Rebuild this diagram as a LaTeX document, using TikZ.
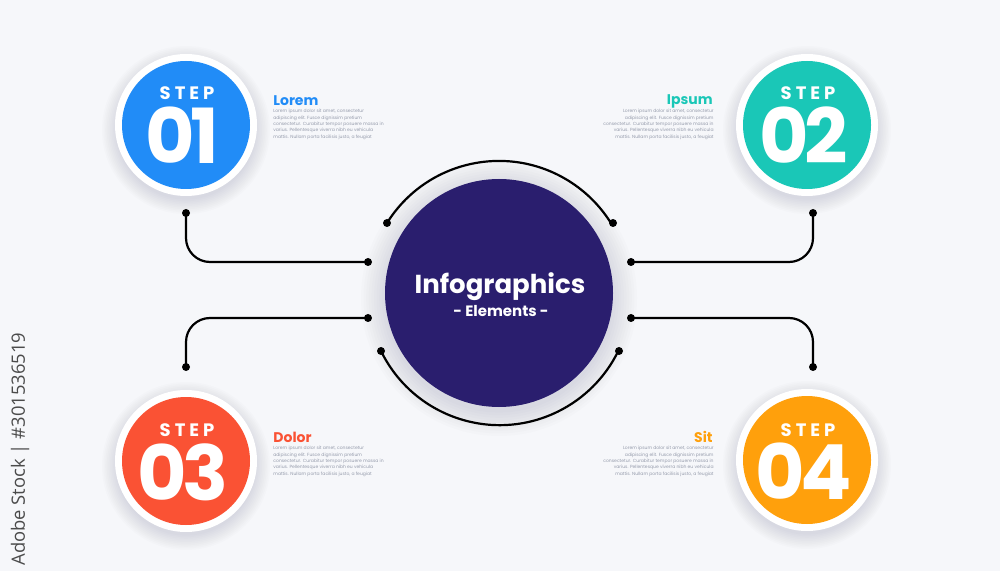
\documentclass[tikz,border=0pt]{standalone}
\usepackage{fontspec}
\setmainfont{Poppins}
\newfontfamily\wmfont{Open Sans}
\definecolor{bg}{RGB}{246,247,250}
\definecolor{cblue}{RGB}{33,140,247}
\definecolor{cteal}{RGB}{26,199,183}
\definecolor{cred}{RGB}{250,82,52}
\definecolor{corange}{RGB}{255,160,12}
\definecolor{cnavy}{RGB}{42,30,110}
\definecolor{bodygray}{RGB}{150,156,172}
\definecolor{wmgray}{RGB}{75,75,75}
\definecolor{shadowc}{RGB}{120,130,155}
\newcommand\mybody{Lorem ipsum dolor sit amet, consectetur\\adipiscing elit. Fusce dignissim pretium\\consectetur. Curabitur tempor posuere massa in\\varius. Pellentesque viverra nibh eu vehicula\\mattis. Nullam porta facilisis justo, a feugiat}
\newcommand\softshadow[3]{% center, radius, spread
  \foreach \k in {1,...,10}{
    \fill[shadowc, opacity=0.022] ($(#1)+(0,5)$) circle[radius={#2+#3*\k/10}];
  }}
\usetikzlibrary{calc}
\tikzset{
  ring/.style={circle, fill=white, minimum size=71pt, inner sep=0pt},
  disc/.style={circle, fill=#1, minimum size=64pt, inner sep=0pt},
  steplbl/.style={text=white, font=\bfseries\fontsize{9}{10}\selectfont\addfontfeature{LetterSpace=22}, inner sep=0pt},
  numlbl/.style={text=white, font=\bfseries\fontsize{38}{40}\selectfont\addfontfeature{LetterSpace=-6}, inner sep=0pt},
  title/.style={text=#1, font=\bfseries\fontsize{7}{8}\selectfont, inner sep=0pt},
  bodytxt/.style={text=bodygray, font=\fontsize{2.25}{3.15}\selectfont, inner sep=0pt},
  conn/.style={draw=black, line width=1.1pt, rounded corners=12pt},
  dot/.style={fill=black}
}
\begin{document}
\begin{tikzpicture}[x=0.5pt,y=-0.5pt]
\fill[bg] (0,0) rectangle (1000,571);
\useasboundingbox (0,0) rectangle (1000,571);

% watermark
\node[rotate=90, anchor=west, inner sep=0pt, text=wmgray, font=\wmfont\fontsize{9.2}{11}\selectfont] (wm) at (20,566) {Adobe Stock | \#301536519};

% shadows
\softshadow{499,293}{112}{26}
\softshadow{186,125}{68}{16}
\softshadow{807,125}{68}{16}
\softshadow{186,461}{68}{16}
\softshadow{807,460}{68}{16}

% central circle
\node[circle, fill=cnavy, minimum size=114pt, inner sep=0pt] (c) at (499,293) {};
\node[text=white, font=\bfseries\fontsize{13}{14}\selectfont, inner sep=0pt] (ct) at (500,287) {Infographics};
\node[text=white, font=\bfseries\fontsize{7.5}{9}\selectfont, inner sep=0pt] (ce) at (501,311) {- Elements -};

% step circles
\node[ring] (r1) at (186,125) {};
\node[disc=cblue] (s1) at (186,125) {};
\node[steplbl] (st1) at (187,93) {STEP};
\node[numlbl] (n1) at (182,135) {01};

\node[ring] (r2) at (807,125) {};
\node[disc=cteal] (s2) at (807,125) {};
\node[steplbl] (st2) at (808,93) {STEP};
\node[numlbl] (n2) at (804,135) {02};

\node[ring] (r3) at (186,461) {};
\node[disc=cred] (s3) at (186,461) {};
\node[steplbl] (st3) at (187,430) {STEP};
\node[numlbl] (n3) at (183,472) {03};

\node[ring] (r4) at (807,460) {};
\node[disc=corange] (s4) at (807,460) {};
\node[steplbl] (st4) at (808,430) {STEP};
\node[numlbl] (n4) at (804,471) {04};

% text blocks
\node[title=cblue, anchor=west] (t1) at (273,101) {Lorem};
\node[bodytxt, anchor=north west, align=left] (b1) at (273,109) {\mybody};
\node[title=cteal, anchor=east] (t2) at (713,101) {Ipsum};
\node[bodytxt, anchor=north east, align=right] (b2) at (714,109) {\mybody};
\node[title=cred, anchor=west] (t3) at (273,437) {Dolor};
\node[bodytxt, anchor=north west, align=left] (b3) at (273,446) {\mybody};
\node[title=corange, anchor=east] (t4) at (713,437) {Sit};
\node[bodytxt, anchor=north east, align=right] (b4) at (714,446) {\mybody};

% connector end points
\coordinate (p1a) at (186,213);
\coordinate (p1b) at (368,262);
\coordinate (p3a) at (186,367);
\coordinate (p3b) at (368,318);
\coordinate (p2a) at (813,213);
\coordinate (p2b) at (631,262);
\coordinate (p4a) at (813,367);
\coordinate (p4b) at (631,318);
\coordinate (aTL) at (387,223);
\coordinate (aTR) at (613,223);
\coordinate (aBL) at (381,351);
\coordinate (aBR) at (619,351);

\draw[conn] (p1a) |- (p1b);
\draw[conn] (p3a) |- (p3b);
\draw[conn] (p2a) |- (p2b);
\draw[conn] (p4a) |- (p4b);
\draw[conn] (aTL) arc[start angle=212, end angle=328, radius=132];
\draw[conn] (aBL) arc[start angle=154, end angle=26, radius=132];

\foreach \p in {p1a,p1b,p2a,p2b,p3a,p3b,p4a,p4b,aTL,aTR,aBL,aBR}
  \fill[dot] (\p) circle[radius=4];
\end{tikzpicture}
\end{document}
